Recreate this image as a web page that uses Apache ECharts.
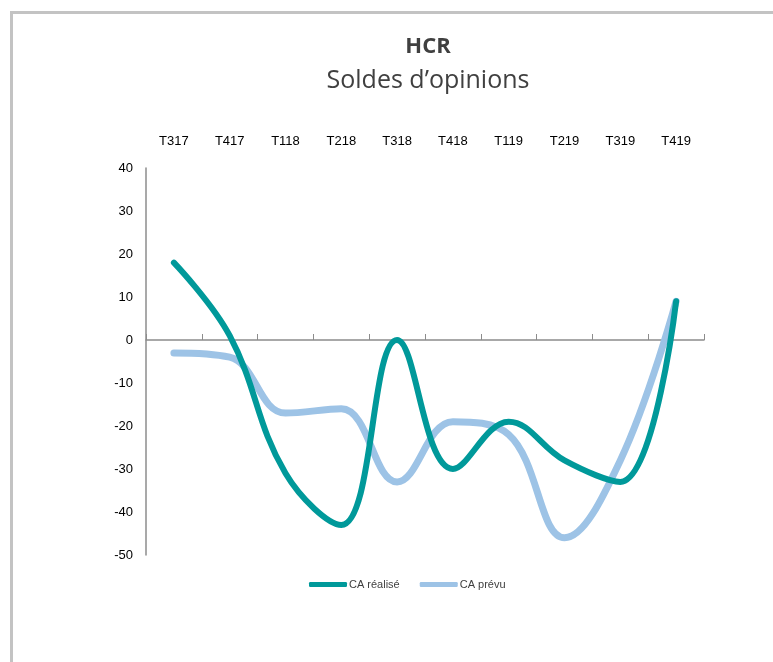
<!DOCTYPE html>
<html>
<head>
<meta charset="utf-8">
<script src="https://cdn.jsdelivr.net/npm/echarts@6/dist/echarts.min.js"></script>
<style>
html,body{margin:0;padding:0;background:#fff;width:773px;height:662px;overflow:hidden;}
#frame{position:absolute;left:10px;top:11px;width:900px;height:800px;border-left:3px solid #c3c3c3;border-top:3px solid #c3c3c3;}
#chart{position:absolute;left:0;top:0;width:773px;height:662px;}
</style>
</head>
<body>
<div id="frame"></div>
<div id="chart"></div>
<script>
const categories = ['T317','T417','T118','T218','T318','T418','T119','T219','T319','T419'];
const caRealise = [18, 1, -31, -43, 0, -30, -19, -28, -33, 9];
const caPrevu = [-3, -4, -17, -16, -33, -19, -22, -46, -28, 9];
const yTicks = {min: -50, max: 40, interval: 10};
const seriesNames = ['CA réalisé', 'CA prévu'];
const titleText = 'HCR';
const subtitleText = 'Soldes d\u2019opinions';

const chart = echarts.init(document.getElementById('chart'), null, {renderer: 'canvas'});
const labelFont = '"Liberation Sans", Arial, sans-serif';
chart.setOption({
  backgroundColor: 'transparent',
  animation: false,
  title: {
    text: titleText,
    subtext: subtitleText,
    left: 423,
    textAlign: 'center',
    top: 31,
    itemGap: 10,
    textStyle: {fontFamily: '"Open Sans", sans-serif', fontWeight: 'bold', fontSize: 22, color: '#404040'},
    subtextStyle: {fontFamily: '"Open Sans", sans-serif', fontSize: 25, color: '#404040'}
  },
  legend: {
    data: seriesNames,
    left: 304,
    top: 574,
    itemWidth: 38,
    itemHeight: 5,
    itemGap: 20,
    icon: 'roundRect',
    textStyle: {fontFamily: labelFont, fontSize: 11, color: '#404040', padding: [0, 0, 0, -3]}
  },
  grid: {left: 146, right: 69, top: 168, bottom: 107, containLabel: false},
  xAxis: [
    {
      type: 'category',
      data: categories,
      position: 'bottom',
      boundaryGap: true,
      axisLine: {onZero: true, lineStyle: {color: '#8c8c8c', width: 1.5}},
      axisTick: {show: true, inside: true, length: 6, alignWithLabel: false, lineStyle: {color: '#8c8c8c'}},
      axisLabel: {show: false},
      splitLine: {show: false}
    },
    {
      type: 'category',
      data: categories,
      position: 'top',
      boundaryGap: true,
      axisLine: {show: false},
      axisTick: {show: false},
      axisLabel: {show: true, margin: 20, fontFamily: labelFont, fontSize: 13, color: '#000'},
      splitLine: {show: false}
    }
  ],
  yAxis: {
    type: 'value',
    min: yTicks.min,
    max: yTicks.max,
    interval: yTicks.interval,
    axisLine: {show: true, lineStyle: {color: '#8c8c8c', width: 1.5}},
    axisTick: {show: false},
    splitLine: {show: false},
    axisLabel: {margin: 13, fontFamily: labelFont, fontSize: 13, color: '#000'}
  },
  series: [
    {
      name: seriesNames[0],
      type: 'line',
      data: caRealise,
      smooth: 0.4,
      showSymbol: false,
      symbol: 'none',
      lineStyle: {color: '#00999a', width: 6, cap: 'round'},
      itemStyle: {color: '#00999a'},
      z: 3
    },
    {
      name: seriesNames[1],
      type: 'line',
      data: caPrevu,
      smooth: 0.4,
      showSymbol: false,
      symbol: 'none',
      lineStyle: {color: '#9dc3e6', width: 7, cap: 'round'},
      itemStyle: {color: '#9dc3e6'},
      z: 2
    }
  ]
});
</script>
</body>
</html>
